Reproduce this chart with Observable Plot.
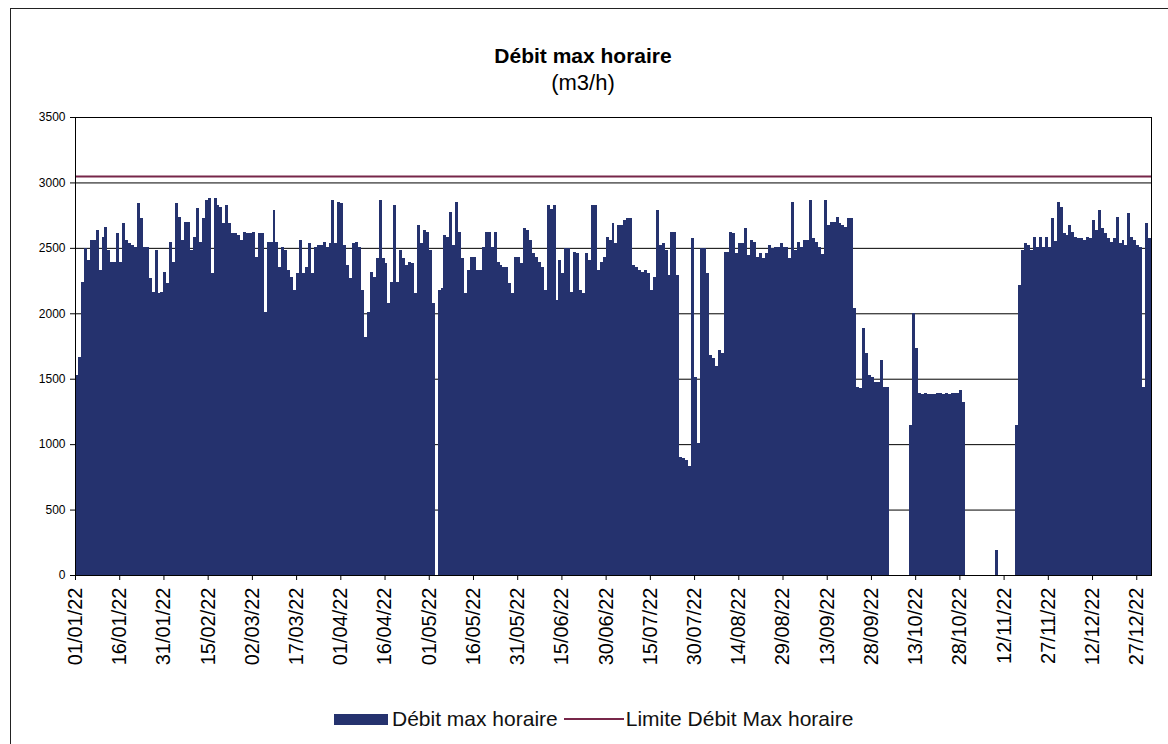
<!DOCTYPE html>
<html>
<head>
<meta charset="utf-8">
<script src="https://cdn.jsdelivr.net/npm/d3@7"></script>
<script src="https://cdn.jsdelivr.net/npm/@observablehq/plot@0.6"></script>
<style>
  html, body { margin: 0; padding: 0; background: #fff; overflow: hidden; }
  #page { position: relative; width: 1168px; height: 744px; overflow: hidden; font-family: "Liberation Sans", Arial, sans-serif; }
  #border { position: absolute; left: 10px; top: 8px; width: 1300px; height: 900px; border: 1px solid #222; }
  #chart { position: absolute; left: 0; top: 0; }
  #title { position: absolute; left: 0; top: 43px; width: 1166px; text-align: center; color: #000; }
  #title .t1 { font-weight: bold; font-size: 21px; line-height: 26px; }
  #title .t2 { font-size: 22px; line-height: 28px; }
  #legend { position: absolute; left: 334px; top: 707px; height: 24px; display: flex; align-items: center; font-size: 21px; color: #111; }
  #legend .sw { width: 54px; height: 11px; background: #25326e; margin-right: 4px; }
  #legend .ln { width: 60px; height: 2px; background: #772649; margin-left: 6px; margin-right: 2px; }
  #chart svg g[aria-label^="x-axis"] text { font-size: 20px; }
  #chart svg g[aria-label^="y-axis"] text { font-size: 12px; }
</style>
</head>
<body>
<div id="page">
  <div id="border"></div>
  <div id="chart"></div>
  <div id="title"><div class="t1">Débit max horaire</div><div class="t2">(m3/h)</div></div>
  <div id="legend"><div class="sw"></div><span>Débit max horaire</span><div class="ln"></div><span>Limite Débit Max horaire</span></div>
</div>
<script>
// Daily values, 2022-01-01 .. 2022-12-31
const startDate = "2022-01-01";
const endDate = "2023-01-01";
const debitMaxHoraire = [
  1528,1668,2241,2500,2407,2560,2560,2636,2330,2585,
  2662,2483,2394,2394,2610,2394,2687,2560,2534,2521,
  2509,2840,2725,2509,2509,2267,2165,2483,2152,2165,
  2318,2229,2547,2394,2840,2738,2560,2700,2700,2483,
  2585,2802,2547,2725,2865,2878,2305,2878,2827,2815,
  2687,2827,2690,2610,2610,2598,2560,2623,2610,2610,
  2623,2432,2610,2610,2012,2547,2547,2789,2547,2356,
  2509,2483,2330,2280,2178,2305,2560,2305,2356,2534,
  2305,2509,2521,2521,2547,2509,2534,2865,2534,2853,
  2840,2521,2368,2267,2534,2547,2509,2178,1820,2012,
  2318,2280,2420,2865,2420,2381,2076,2241,2827,2241,
  2483,2420,2368,2394,2381,2152,2674,2534,2636,2623,
  2483,2076,0,2178,2190,2598,2585,2776,2521,2853,
  2623,2420,2152,2330,2432,2432,2330,2330,2509,2623,
  2623,2509,2623,2394,2368,2356,2356,2229,2152,2432,
  2432,2381,2649,2636,2560,2458,2432,2394,2356,2178,
  2827,2800,2827,2101,2407,2305,2496,2496,2165,2470,
  2458,2178,2152,2458,2407,2827,2827,2330,2394,2432,
  2585,2560,2687,2534,2674,2674,2713,2725,2725,2368,
  2356,2330,2318,2330,2305,2178,2280,2789,2521,2534,
  2483,2292,2623,2623,2292,900,891,880,830,2572,
  1515,1006,2496,2496,2305,1681,1655,1600,1719,1700,
  2470,2470,2623,2610,2458,2534,2534,2649,2445,2560,
  2547,2432,2458,2420,2458,2521,2496,2509,2509,2534,
  2509,2509,2420,2853,2483,2547,2509,2560,2560,2865,
  2572,2547,2509,2450,2865,2674,2700,2700,2738,2687,
  2674,2662,2725,2725,2038,1439,1426,1885,1694,1528,
  1515,1477,1477,1643,1439,1439,0,0,0,0,
  0,0,0,1146,2000,1732,1390,1385,1390,1380,
  1385,1385,1388,1388,1385,1388,1385,1388,1388,1388,
  1414,1320,0,0,0,0,0,0,0,0,
  0,0,191,0,0,0,0,0,0,1146,
  2216,2483,2534,2521,2483,2585,2509,2585,2509,2585,
  2509,2725,2550,2853,2815,2610,2598,2674,2623,2585,
  2572,2572,2560,2585,2572,2713,2636,2789,2649,2610,
  2572,2547,2572,2738,2534,2560,2521,2763,2585,2560,
  2521,2509,1439,2687,2572
];
const limiteDebitMax = 3050;
const xTickLabels = [
  "01/01/22","16/01/22","31/01/22","15/02/22","02/03/22","17/03/22","01/04/22",
  "16/04/22","01/05/22","16/05/22","31/05/22","15/06/22","30/06/22","15/07/22",
  "30/07/22","14/08/22","29/08/22","13/09/22","28/09/22","13/10/22","28/10/22",
  "12/11/22","27/11/22","12/12/22","27/12/22"
];
const yTicks = [0, 500, 1000, 1500, 2000, 2500, 3000, 3500];

const parseTick = d3.utcParse("%d/%m/%y");
const fmtTick = d3.utcFormat("%d/%m/%y");
const start = new Date(startDate + "T00:00:00Z");
const end = new Date(endDate + "T00:00:00Z");
const rows = debitMaxHoraire.map((v, i) => ({
  x1: d3.utcDay.offset(start, i),
  x2: d3.utcDay.offset(start, i + 1),
  v
}));
const tickDates = xTickLabels.map(parseTick);

const chart = Plot.plot({
  width: 1168,
  height: 744,
  marginLeft: 75,
  marginRight: 17,
  marginTop: 117,
  marginBottom: 169,
  style: { fontFamily: "'Liberation Sans', Arial, sans-serif", background: "transparent", color: "#000" },
  x: { type: "utc", domain: [start, end], ticks: tickDates, tickFormat: fmtTick, tickRotate: -90, tickSize: 5, tickPadding: 7, label: null },
  y: { domain: [0, 3500], ticks: yTicks, tickFormat: d => String(d), tickSize: 5, tickPadding: 5, label: null },
  marks: [
    Plot.ruleY(yTicks.filter(t => t > 0 && t < 3500), { stroke: "#000", strokeWidth: 1 }),
    Plot.rectY(rows, { x1: "x1", x2: "x2", y: "v", fill: "#25326e", shapeRendering: "crispEdges" }),
    Plot.ruleY([limiteDebitMax], { stroke: "#772649", strokeWidth: 2 }),
    Plot.frame({ stroke: "#000", strokeWidth: 1 })
  ]
});
document.getElementById("chart").appendChild(chart);
</script>
</body>
</html>
